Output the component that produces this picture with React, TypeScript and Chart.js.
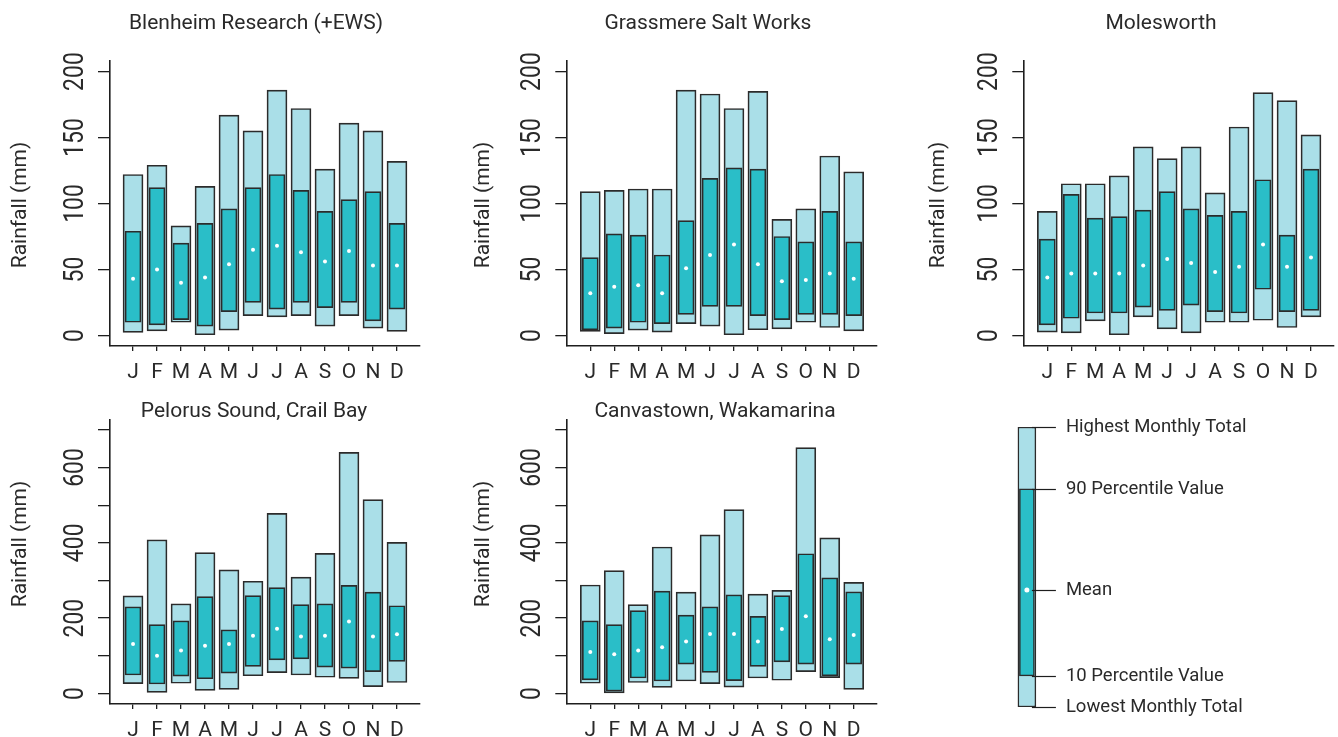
import React, { useEffect, useRef } from 'react';
import { Chart, registerables } from 'chart.js';
Chart.register(...registerables);

// ---------- DATA ----------
const months = ['J', 'F', 'M', 'A', 'M', 'J', 'J', 'A', 'S', 'O', 'N', 'D'];

const smallTickValues = [0, 50, 100, 150, 200];
const smallTickLabels = ['0', '50', '100', '150', '200'];
const bigTickValues = [0, 100, 200, 300, 400, 500, 600, 700];
const bigTickLabels = ['0', '', '200', '', '400', '', '600', ''];

const blenheimMax = [122, 129, 83, 113, 167, 155, 186, 172, 126, 161, 155, 132];
const blenheimP90 = [79, 112, 70, 85, 96, 112, 122, 110, 94, 103, 109, 85];
const blenheimP10 = [10, 8, 12, 7, 18, 25, 20, 25, 21, 25, 11, 20];
const blenheimMin = [2.3, 3.5, 10, 0.5, 4, 15, 14, 15, 7, 15, 5.5, 3];
const blenheimMean = [43, 50, 40, 44, 54, 65, 68, 63, 56, 64, 53, 53];

const grassmereMax = [109, 110, 111, 111, 186, 183, 172, 185, 88, 96, 136, 124];
const grassmereP90 = [59, 77, 76, 61, 87, 119, 127, 126, 75, 71, 94, 71];
const grassmereP10 = [4.3, 5.6, 10, 9, 16, 22, 22, 15, 12, 16, 16, 15];
const grassmereMin = [3, 1.3, 4, 2.5, 9, 7, 0, 4.3, 5, 10, 6, 3.5];
const grassmereMean = [32, 37, 38, 32, 51, 61, 69, 54, 41, 42, 47, 43];

const molesworthMax = [94, 115, 115, 121, 143, 134, 143, 108, 158, 184, 178, 152];
const molesworthP90 = [73, 107, 89, 90, 95, 109, 96, 91, 94, 118, 76, 126];
const molesworthP10 = [8, 13, 17, 17, 21.5, 19, 23, 18, 17, 35, 18, 19];
const molesworthMin = [2.5, 2, 11, 0, 14, 5, 2, 10, 10, 11.5, 6, 14];
const molesworthMean = [44, 47, 47, 47, 53, 58, 55, 48, 52, 69, 52, 59];

const pelorusMax = [259, 408, 238, 374, 328, 298, 478, 309, 372, 640, 515, 401];
const pelorusP90 = [230, 183, 193, 257, 169, 260, 281, 236, 238, 287, 269, 233];
const pelorusP10 = [49, 25, 46, 39, 54, 72, 89, 92, 70, 67, 58, 85];
const pelorusMin = [26, 3, 27, 8, 11, 47, 55, 49, 43, 40, 18, 29];
const pelorusMean = [131, 100, 114, 127, 131, 153, 172, 151, 153, 191, 151, 157];

const canvastownMax = [288, 326, 236, 389, 269, 421, 488, 264, 274, 653, 413, 295];
const canvastownP90 = [193, 183, 220, 272, 208, 230, 262, 205, 260, 371, 307, 270];
const canvastownP10 = [36, 6, 41, 33, 78, 56, 34, 72, 84, 78, 47, 78];
const canvastownMin = [27, 0, 29, 16, 33, 26, 17, 41, 35, 58, 42, 11];
const canvastownMean = [110, 104, 114, 123, 138, 158, 158, 138, 171, 205, 144, 155];

const legendLabels = ['Highest Monthly Total', '90 Percentile Value', 'Mean', '10 Percentile Value', 'Lowest Monthly Total'];
const legendValues = [100, 77.9, 41.8, 11.1, 0];

// ---------- STYLE ----------
const LIGHT = '#aadfe8';
const DARK = '#2abec8';
const EDGE = '#2b2b2b';
const AXIS = '#1e1e1e';
const TEXT = '#2a2a2a';
const FONT = 'Roboto, "Noto Sans", sans-serif';

type Station = {
  title: string;
  max: number[]; p90: number[]; p10: number[]; min: number[]; mean: number[];
  tickValues: number[]; tickLabels: string[]; yMin: number; yMax: number;
};

type Geo = {
  left: number; top: number; width: number; height: number;
  L: number; R: number; T: number; B: number;
  titleX: number; titleY: number; yTitleX: number; yTitleY: number;
};

const stations: Station[] = [
  { title: 'Blenheim Research (+EWS)', max: blenheimMax, p90: blenheimP90, p10: blenheimP10, min: blenheimMin, mean: blenheimMean, tickValues: smallTickValues, tickLabels: smallTickLabels, yMin: -8, yMax: 208 },
  { title: 'Grassmere Salt Works', max: grassmereMax, p90: grassmereP90, p10: grassmereP10, min: grassmereMin, mean: grassmereMean, tickValues: smallTickValues, tickLabels: smallTickLabels, yMin: -8, yMax: 208 },
  { title: 'Molesworth', max: molesworthMax, p90: molesworthP90, p10: molesworthP10, min: molesworthMin, mean: molesworthMean, tickValues: smallTickValues, tickLabels: smallTickLabels, yMin: -8, yMax: 208 },
  { title: 'Pelorus Sound, Crail Bay', max: pelorusMax, p90: pelorusP90, p10: pelorusP10, min: pelorusMin, mean: pelorusMean, tickValues: bigTickValues, tickLabels: bigTickLabels, yMin: -28, yMax: 728 },
  { title: 'Canvastown, Wakamarina', max: canvastownMax, p90: canvastownP90, p10: canvastownP10, min: canvastownMin, mean: canvastownMean, tickValues: bigTickValues, tickLabels: bigTickLabels, yMin: -28, yMax: 728 },
];

const geos: Geo[] = [
  { left: 0, top: 0, width: 440, height: 390, L: 110, R: 420, T: 61, B: 346, titleX: 256, titleY: 29, yTitleX: 26, yTitleY: 205 },
  { left: 440, top: 0, width: 450, height: 390, L: 567.3, R: 876.7, T: 61, B: 346, titleX: 708, titleY: 29, yTitleX: 489, yTitleY: 205 },
  { left: 890, top: 0, width: 448, height: 390, L: 1024.3, R: 1334, T: 61, B: 346, titleX: 1161, titleY: 29, yTitleX: 944, yTitleY: 205 },
  { left: 0, top: 390, width: 440, height: 347, L: 110, R: 420, T: 419.3, B: 704, titleX: 254, titleY: 416.5, yTitleX: 26, yTitleY: 544 },
  { left: 440, top: 390, width: 450, height: 347, L: 567.3, R: 876.7, T: 419.3, B: 704, titleX: 715, titleY: 416.5, yTitleX: 489, yTitleY: 544 },
];

const Y_TICK_LEN = 12;
const X_TICK_LEN = 5;

function Panel({ st, g }: { st: Station; g: Geo }) {
  const ref = useRef<HTMLCanvasElement | null>(null);
  useEffect(() => {
    if (!ref.current) return;
    const decor = {
      id: 'decor',
      afterDraw(chart: any) {
        const ctx = chart.ctx as CanvasRenderingContext2D;
        const ys = chart.scales.y;
        const xs = chart.scales.x;
        const ca = chart.chartArea;
        ctx.save();
        ctx.fillStyle = TEXT;
        // title
        ctx.font = `21px ${FONT}`;
        ctx.textAlign = 'center';
        ctx.textBaseline = 'alphabetic';
        ctx.fillText(st.title, g.titleX - g.left, g.titleY - g.top);
        // x labels
        months.forEach((m, i) => {
          ctx.fillText(m, xs.getPixelForValue(i + 1), ca.bottom + 32);
        });
        // y tick labels (rotated, condensed)
        ctx.font = `28px ${FONT}`;
        st.tickValues.forEach((v, i) => {
          const lab = st.tickLabels[i];
          if (!lab) return;
          ctx.save();
          ctx.translate(ca.left - 27, ys.getPixelForValue(v));
          ctx.rotate(-Math.PI / 2);
          ctx.scale(0.82, 1);
          ctx.fillText(lab, 0, 0);
          ctx.restore();
        });
        // y title
        ctx.font = `21px ${FONT}`;
        ctx.save();
        ctx.translate(g.yTitleX - g.left, g.yTitleY - g.top);
        ctx.rotate(-Math.PI / 2);
        ctx.fillText('Rainfall (mm)', 0, 0);
        ctx.restore();
        ctx.restore();
      },
    };
    const chart = new Chart(ref.current, {
      type: 'bar',
      data: {
        datasets: [
          {
            type: 'line',
            label: 'Mean',
            data: st.mean.map((v, i) => ({ x: i + 1, y: v })),
            showLine: false,
            pointRadius: 2,
            pointBackgroundColor: '#ffffff',
            pointBorderWidth: 0,
            order: 0,
          } as any,
          {
            label: '10-90 percentile',
            data: st.p10.map((v, i) => ({ x: i + 1, y: [v, st.p90[i]] })),
            backgroundColor: DARK,
            borderColor: EDGE,
            borderWidth: 1.7,
            borderSkipped: false,
            barThickness: 16,
            grouped: false,
            order: 1,
          },
          {
            label: 'Range',
            data: st.min.map((v, i) => ({ x: i + 1, y: [v, st.max[i]] })),
            backgroundColor: LIGHT,
            borderColor: EDGE,
            borderWidth: 1.7,
            borderSkipped: false,
            barThickness: 20,
            grouped: false,
            order: 2,
          },
        ] as any,
      },
      options: {
        animation: false,
        responsive: false,
        devicePixelRatio: 1,
        events: [],
        layout: {
          padding: {
            left: g.L - g.left - Y_TICK_LEN,
            right: g.left + g.width - g.R,
            top: g.T - g.top,
            bottom: g.top + g.height - g.B - X_TICK_LEN,
          },
        },
        plugins: { legend: { display: false }, tooltip: { enabled: false }, title: { display: false } },
        scales: {
          x: {
            type: 'linear',
            min: 0.04,
            max: 12.96,
            offset: false,
            afterBuildTicks: (s: any) => { s.ticks = months.map((_, i) => ({ value: i + 1 })); },
            afterFit: (s: any) => { s.height = X_TICK_LEN; },
            ticks: { display: false },
            grid: { display: true, offset: false, drawOnChartArea: false, drawTicks: true, tickLength: X_TICK_LEN, color: AXIS, lineWidth: 1.3 },
            border: { display: true, color: AXIS, width: 1.6 },
          },
          y: {
            type: 'linear',
            min: st.yMin,
            max: st.yMax,
            afterBuildTicks: (s: any) => { s.ticks = st.tickValues.map((v) => ({ value: v })); },
            afterFit: (s: any) => { s.width = Y_TICK_LEN; },
            ticks: { display: false },
            grid: { display: true, drawOnChartArea: false, drawTicks: true, tickLength: Y_TICK_LEN, color: AXIS, lineWidth: 1.3 },
            border: { display: true, color: AXIS, width: 1.6 },
          },
        },
      } as any,
      plugins: [decor],
    });
    return () => chart.destroy();
  }, []);
  return (
    <canvas
      ref={ref}
      width={g.width}
      height={g.height}
      style={{ position: 'absolute', left: g.left, top: g.top, width: g.width, height: g.height, display: 'block' }}
    />
  );
}

function LegendPanel() {
  const ref = useRef<HTMLCanvasElement | null>(null);
  const g = { left: 890, top: 390, width: 448, height: 347 };
  useEffect(() => {
    if (!ref.current) return;
    const decor = {
      id: 'legendDecor',
      afterDraw(chart: any) {
        const ctx = chart.ctx as CanvasRenderingContext2D;
        const ys = chart.scales.y;
        const xc = chart.scales.x.getPixelForValue(1);
        ctx.save();
        ctx.strokeStyle = AXIS;
        ctx.lineWidth = 1.2;
        ctx.fillStyle = TEXT;
        ctx.font = `18.5px ${FONT}`;
        ctx.textAlign = 'left';
        ctx.textBaseline = 'middle';
        legendValues.forEach((v, i) => {
          const y = Math.round(ys.getPixelForValue(v)) + 0.5;
          ctx.beginPath();
          ctx.moveTo(xc + 5, y);
          ctx.lineTo(xc + 29, y);
          ctx.stroke();
          ctx.fillText(legendLabels[i], xc + 39, y);
        });
        ctx.restore();
      },
    };
    const chart = new Chart(ref.current, {
      type: 'bar',
      data: {
        datasets: [
          {
            type: 'line',
            data: [{ x: 1, y: legendValues[2] }],
            showLine: false,
            pointRadius: 2.5,
            pointBackgroundColor: '#ffffff',
            pointBorderWidth: 0,
            order: 0,
          } as any,
          {
            data: [{ x: 1, y: [legendValues[3], legendValues[1]] }],
            backgroundColor: DARK,
            borderColor: EDGE,
            borderWidth: 1.5,
            borderSkipped: false,
            barThickness: 15,
            grouped: false,
            order: 1,
          },
          {
            data: [{ x: 1, y: [legendValues[4], legendValues[0]] }],
            backgroundColor: LIGHT,
            borderColor: EDGE,
            borderWidth: 1.5,
            borderSkipped: false,
            barThickness: 18,
            grouped: false,
            order: 2,
          },
        ] as any,
      },
      options: {
        animation: false,
        responsive: false,
        devicePixelRatio: 1,
        events: [],
        layout: { padding: { left: 117, right: 291.2, top: 37, bottom: 30 } },
        plugins: { legend: { display: false }, tooltip: { enabled: false } },
        scales: {
          x: { type: 'linear', min: 0, max: 2, offset: false, display: false },
          y: { type: 'linear', min: 0, max: 100, display: false },
        },
      } as any,
      plugins: [decor],
    });
    return () => chart.destroy();
  }, []);
  return (
    <canvas
      ref={ref}
      width={g.width}
      height={g.height}
      style={{ position: 'absolute', left: g.left, top: g.top, width: g.width, height: g.height, display: 'block' }}
    />
  );
}

export default function App() {
  return (
    <div style={{ position: 'absolute', left: 0, top: 0, width: 1338, height: 737, background: '#ffffff', overflow: 'hidden' }}>
      {stations.map((st, i) => (
        <Panel key={i} st={st} g={geos[i]} />
      ))}
      <LegendPanel />
    </div>
  );
}
